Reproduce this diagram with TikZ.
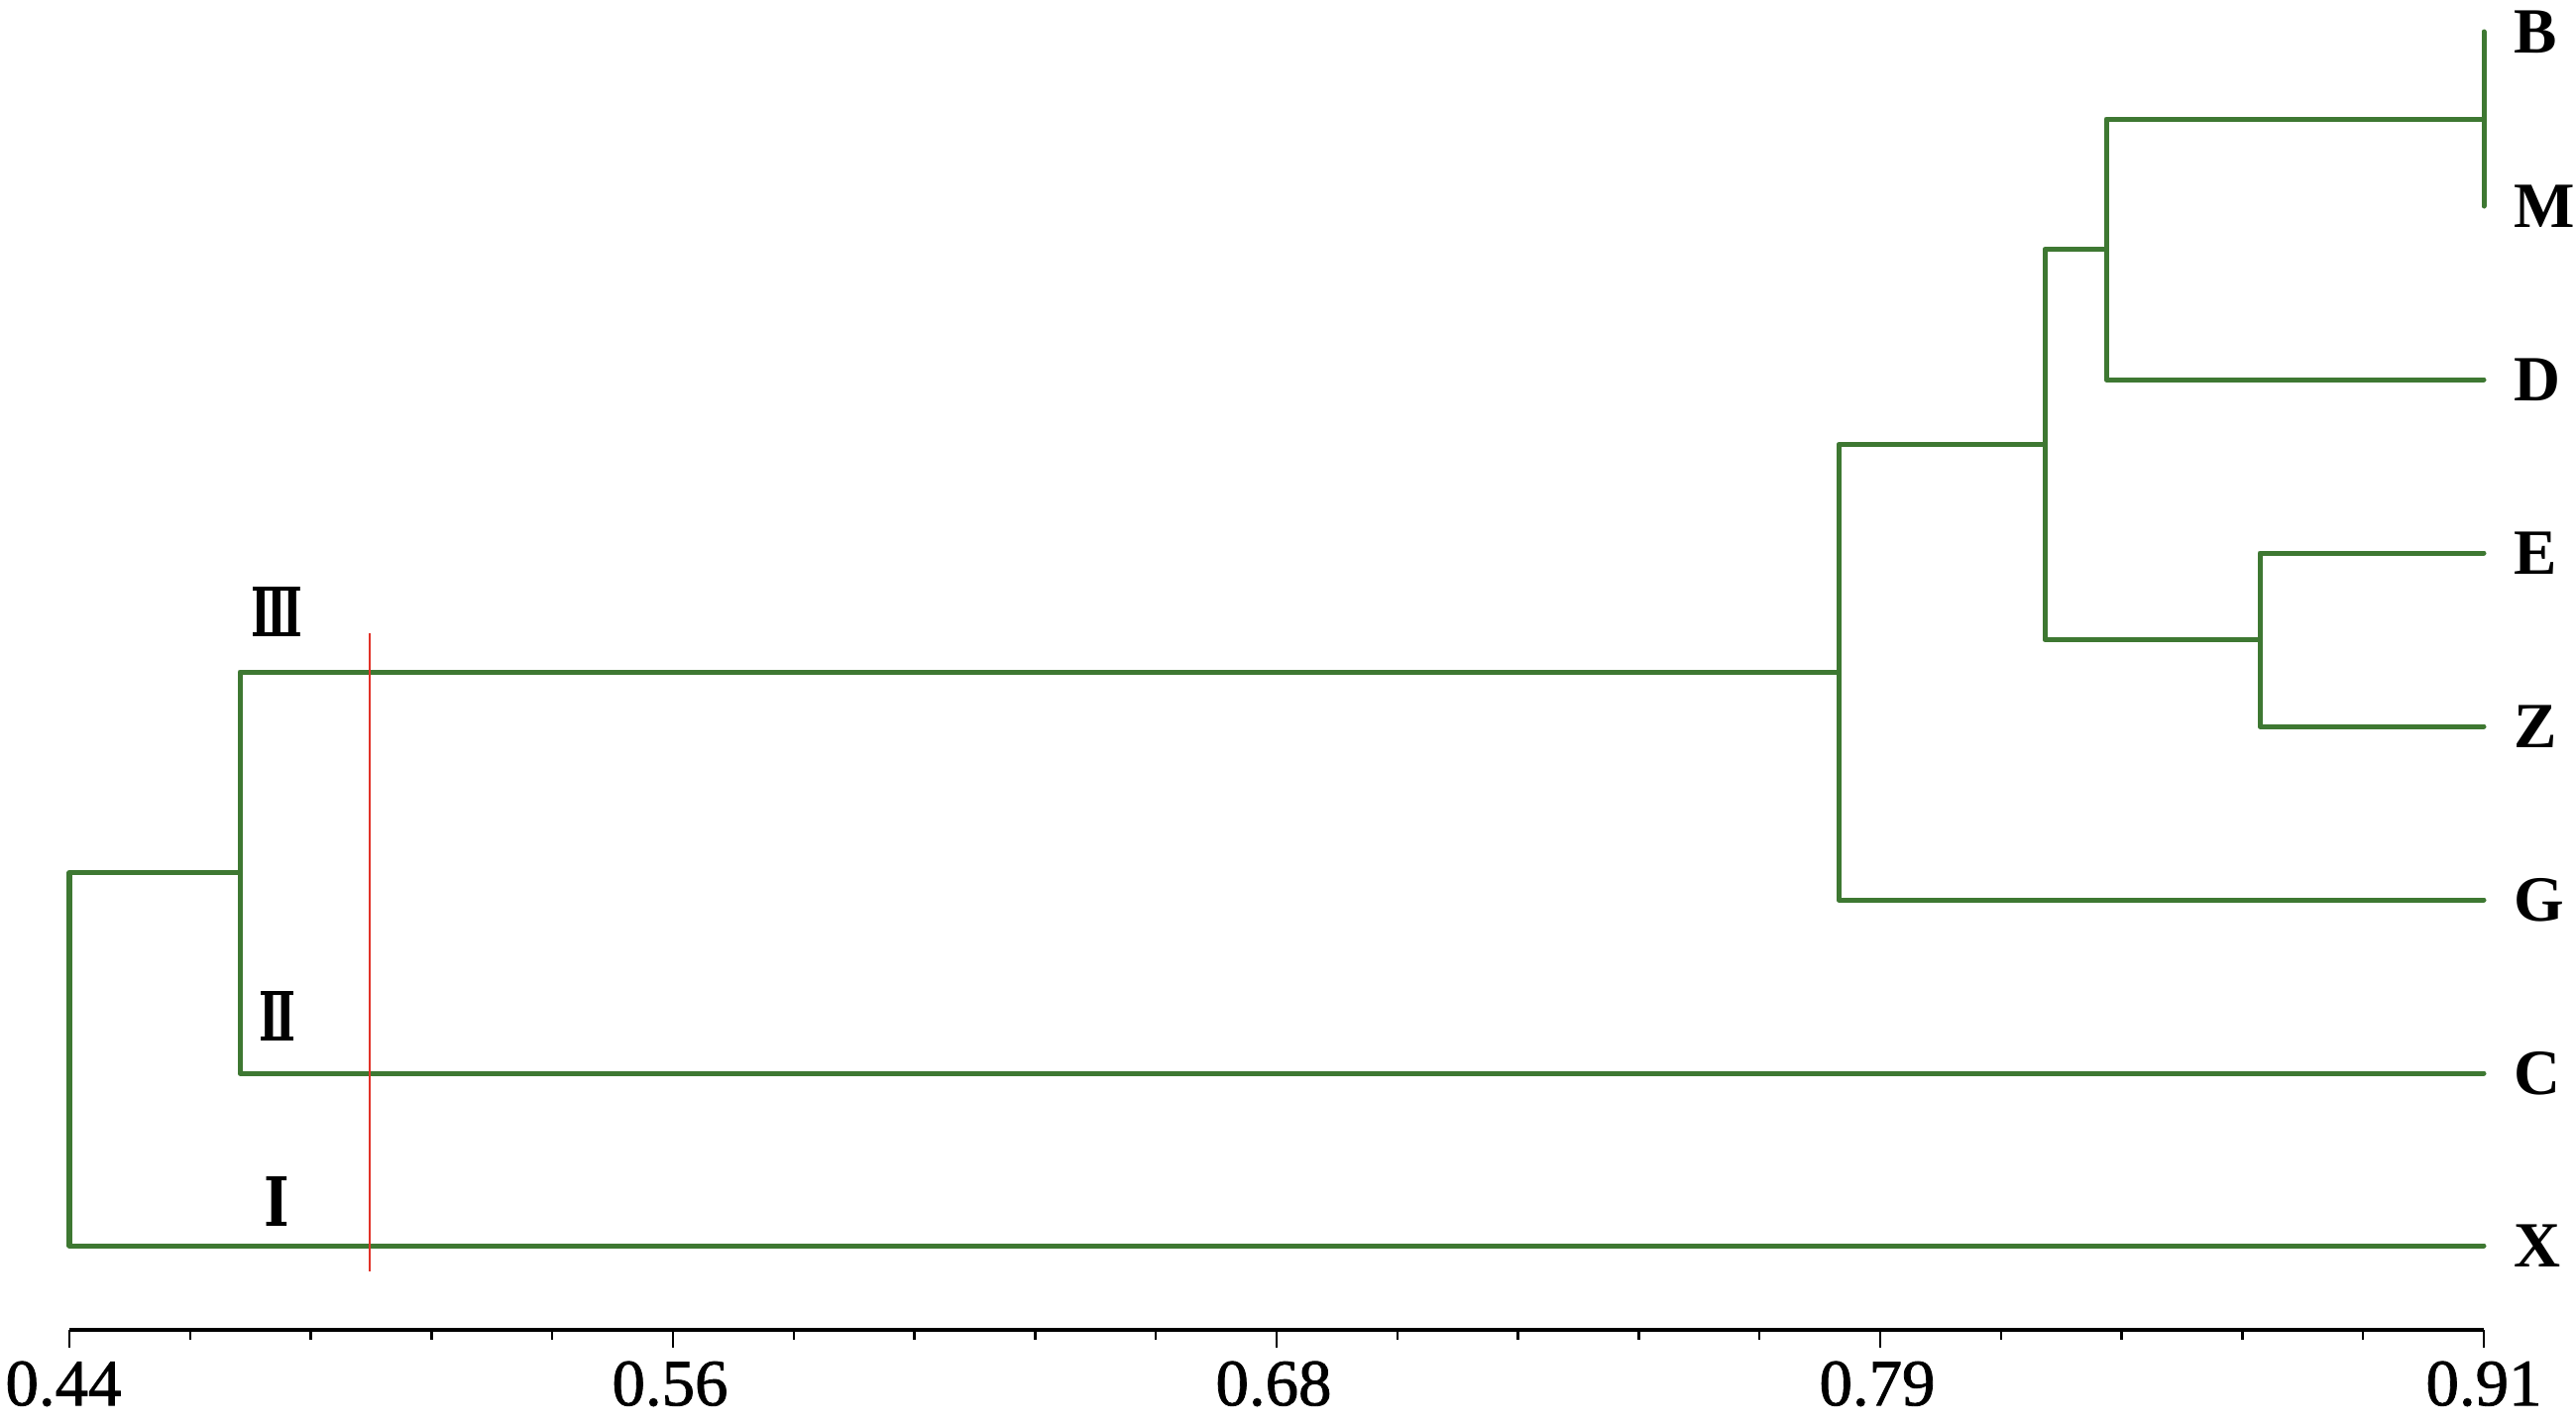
\documentclass[tikz,border=0pt]{standalone}
\usepackage{fontspec}
\setmainfont{Liberation Serif}
\newfontfamily\romanfont{DejaVu Serif}
\newfontfamily\axisfont[FakeBold=1.2]{Liberation Serif}
\definecolor{treegreen}{RGB}{62,120,50}
\definecolor{cutred}{RGB}{225,50,40}
\begin{document}
\begin{tikzpicture}[x=0.01cm,y=-0.01cm,
  branch/.style={draw=treegreen,line width=0.05cm,line join=round,line cap=round},
  leaflabel/.style={anchor=west,inner sep=0pt,font=\fontsize{18.5pt}{20pt}\selectfont\bfseries},
  ticklabel/.style={anchor=north,inner sep=0pt,font=\fontsize{19pt}{21pt}\axisfont},
  clusterlabel/.style={inner sep=0pt,font=\fontsize{19.5pt}{21pt}\selectfont\romanfont\bfseries},
  axisline/.style={draw=black,line width=0.04cm},
  tickline/.style={draw=black,line width=0.025cm},
  cutline/.style={draw=cutred,line width=0.027cm}]
\useasboundingbox (0,0) rectangle (2599,1438);
% leaf ends
\coordinate (lB) at (2506,32);
\coordinate (lM) at (2506,208);
\coordinate (lD) at (2506,383);
\coordinate (lE) at (2506,558);
\coordinate (lZ) at (2506,733);
\coordinate (lG) at (2506,908);
\coordinate (lC) at (2506,1083);
\coordinate (lX) at (2506,1257);
% internal nodes
\coordinate (nBM) at (2506,120);
\coordinate (nBMD) at (2125,251.5);
\coordinate (nEZ) at (2280,645.5);
\coordinate (nA) at (2063,448.5);
\coordinate (nIII) at (1855,678);
\coordinate (nII) at (242,880.5);
\coordinate (nRoot) at (70,1068.75);
% branches
\draw[branch] (lB) -| (nBM) |- (lM);
\draw[branch] (nBM) -| (nBMD) |- (lD);
\draw[branch] (lE) -| (nEZ) |- (lZ);
\draw[branch] (nBMD) -| (nA) |- (nEZ);
\draw[branch] (nA) -| (nIII) |- (lG);
\draw[branch] (nIII) -| (nII) |- (lC);
\draw[branch] (nII) -| (nRoot) |- (lX);
% leaf labels
\node[leaflabel] (tB) at (2536,32) {B};
\node[leaflabel] (tM) at (2536,208) {M};
\node[leaflabel] (tD) at (2536,383) {D};
\node[leaflabel] (tE) at (2536,558) {E};
\node[leaflabel] (tZ) at (2536,733) {Z};
\node[leaflabel] (tG) at (2536,908) {G};
\node[leaflabel] (tC) at (2536,1083) {C};
\node[leaflabel] (tX) at (2536,1257) {X};
% cluster labels
\node[clusterlabel] (c3) at (279.5,617.5) {\scalebox{0.62}[1]{Ⅲ}};
\node[clusterlabel] (c2) at (279.5,1025) {\scalebox{0.64}[1]{Ⅱ}};
\node[clusterlabel] (c1) at (279,1212) {\scalebox{0.8}[1]{Ⅰ}};
% cut line
\coordinate (cutTop) at (373,639);
\coordinate (cutBot) at (373,1283);
\draw[cutline] (cutTop) -- (cutBot);
% axis
\coordinate (axL) at (70,1342);
\coordinate (axR) at (2506,1342);
\draw[axisline] (axL) -- (axR);
\foreach \i in {0,...,20}{
  \pgfmathsetmacro{\xx}{70+\i*121.8}
  \pgfmathtruncatemacro{\m}{mod(\i,5)}
  \ifnum\m=0
    \draw[tickline] (\xx,1342) -- (\xx,1360);
  \else
    \draw[tickline] (\xx,1342) -- (\xx,1352);
  \fi
}
\node[ticklabel] (a1) at (64,1373) {0.44};
\node[ticklabel] (a2) at (676,1373) {0.56};
\node[ticklabel] (a3) at (1285,1373) {0.68};
\node[ticklabel] (a4) at (1894,1373) {0.79};
\node[ticklabel] (a5) at (2506,1373) {0.91};
\end{tikzpicture}
\end{document}
